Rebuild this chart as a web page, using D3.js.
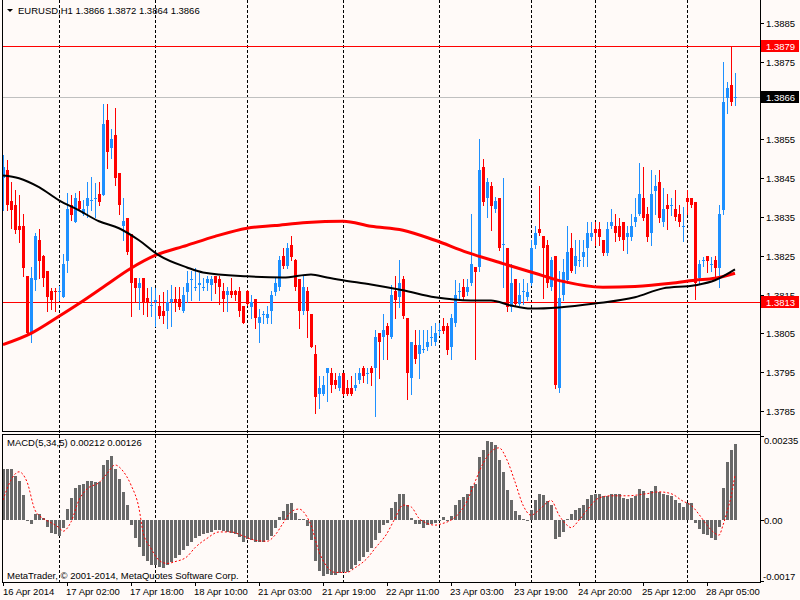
<!DOCTYPE html>
<html><head><meta charset="utf-8">
<script src="https://cdn.jsdelivr.net/npm/d3@7"></script>
<style>
html,body{margin:0;padding:0;background:#fffaf8;}
svg{display:block;}
text{font-family:"Liberation Sans",Arial,sans-serif;font-size:9.5px;fill:#000;}
</style></head>
<body>
<svg id="c" width="800" height="600"></svg>
<script>
// ---------- DATA ----------
const symbolTitle = "EURUSD,H1";
const lastOHLC = ["1.3866","1.3872","1.3864","1.3866"];
const opens = [
1.38450,1.38470,1.38390,1.38380,1.38328,1.38328,1.38199,1.38052,1.38187,1.38290,
1.38249,1.38210,1.38158,1.38158,1.38158,1.38145,1.38236,1.38380,1.38336,1.38390,
1.38359,1.38378,1.38390,1.38396,1.38408,1.38406,1.38599,1.38527,1.38561,1.38463,
1.38326,1.38347,1.38305,1.38192,1.38166,1.38192,1.38140,1.38120,1.38132,1.38120,
1.38109,1.38109,1.38130,1.38138,1.38138,1.38107,1.38156,1.38187,1.38166,1.38176,
1.38166,1.38179,1.38176,1.38199,1.38189,1.38158,1.38148,1.38158,1.38158,1.38158,
1.38120,1.38158,1.38117,1.38138,1.38076,1.38099,1.38089,1.38107,1.38156,1.38169,
1.38249,1.38225,1.38279,1.38238,1.38189,1.38107,1.38158,1.38099,1.37998,1.37895,
1.37895,1.37947,1.37947,1.37929,1.37908,1.37947,1.37908,1.37908,1.37908,1.37929,
1.37960,1.37947,1.37960,1.37960,1.38050,1.38040,1.38068,1.38040,1.38158,1.38145,
1.38189,1.38089,1.37936,1.38019,1.37996,1.38006,1.38016,1.38037,1.38027,1.38058,
1.38068,1.38068,1.38016,1.38076,1.38156,1.38169,1.38156,1.38179,1.38220,1.38220,
1.38478,1.38398,1.38429,1.38370,1.38398,1.38279,1.38269,1.38117,1.38189,1.38127,
1.38156,1.38145,1.38179,1.38277,1.38318,1.38300,1.38279,1.38169,1.38249,1.37908,
1.38148,1.38187,1.38269,1.38225,1.38237,1.38246,1.38269,1.38298,1.38318,1.38318,
1.38290,1.38256,1.38326,1.38328,1.38328,1.38336,1.38298,1.38298,1.38336,1.38359,
1.38398,1.38359,1.38308,1.38416,1.38439,1.38336,1.38380,1.38379,1.38370,1.38359,
1.38327,1.38398,1.38398,1.38388,1.38194,1.38237,1.38249,1.38227,1.38238,1.38218,
1.38367,1.38656,1.38690,1.38659];
const highs = [
1.38509,1.38496,1.38439,1.38419,1.38406,1.38359,1.38199,1.38220,1.38308,1.38318,
1.38251,1.38210,1.38166,1.38166,1.38171,1.38254,1.38411,1.38406,1.38411,1.38416,
1.38393,1.38439,1.38452,1.38437,1.38439,1.38641,1.38641,1.38576,1.38630,1.38463,
1.38398,1.38347,1.38305,1.38192,1.38192,1.38192,1.38166,1.38169,1.38166,1.38148,
1.38156,1.38161,1.38176,1.38169,1.38169,1.38169,1.38210,1.38212,1.38218,1.38205,
1.38194,1.38199,1.38199,1.38199,1.38199,1.38179,1.38169,1.38192,1.38161,1.38169,
1.38120,1.38161,1.38148,1.38138,1.38114,1.38109,1.38120,1.38158,1.38192,1.38249,
1.38269,1.38282,1.38300,1.38243,1.38189,1.38199,1.38169,1.38099,1.38019,1.37939,
1.37939,1.37960,1.37960,1.37947,1.37947,1.37947,1.37929,1.37939,1.37947,1.37960,
1.37967,1.37960,1.37967,1.38058,1.38050,1.38101,1.38078,1.38174,1.38199,1.38238,
1.38199,1.38089,1.38029,1.38058,1.38058,1.38058,1.38058,1.38068,1.38078,1.38078,
1.38089,1.38078,1.38101,1.38187,1.38181,1.38189,1.38189,1.38359,1.38220,1.38550,
1.38499,1.38450,1.38439,1.38401,1.38398,1.38450,1.38269,1.38230,1.38189,1.38179,
1.38189,1.38179,1.38290,1.38328,1.38429,1.38300,1.38290,1.38246,1.38249,1.38210,
1.38243,1.38328,1.38308,1.38290,1.38290,1.38290,1.38336,1.38336,1.38336,1.38336,
1.38290,1.38336,1.38370,1.38359,1.38347,1.38336,1.38328,1.38359,1.38398,1.38488,
1.38478,1.38375,1.38470,1.38457,1.38470,1.38424,1.38408,1.38398,1.38419,1.38380,
1.38375,1.38419,1.38398,1.38388,1.38238,1.38246,1.38249,1.38246,1.38249,1.38380,
1.38749,1.38697,1.38788,1.38721];
const lows = [
1.38367,1.38367,1.38321,1.38308,1.38285,1.38199,1.38045,1.38027,1.38161,1.38194,
1.38171,1.38109,1.38114,1.38109,1.38135,1.38143,1.38207,1.38341,1.38336,1.38367,
1.38354,1.38349,1.38367,1.38349,1.38380,1.38406,1.38476,1.38501,1.38432,1.38359,
1.38290,1.38254,1.38096,1.38130,1.38114,1.38101,1.38096,1.38096,1.38070,1.38089,
1.38076,1.38065,1.38070,1.38109,1.38114,1.38104,1.38130,1.38135,1.38161,1.38135,
1.38161,1.38161,1.38135,1.38153,1.38127,1.38109,1.38109,1.38145,1.38135,1.38096,
1.38076,1.38122,1.38089,1.38065,1.38027,1.38076,1.38078,1.38076,1.38148,1.38161,
1.38218,1.38218,1.38238,1.38161,1.38065,1.38101,1.38040,1.38016,1.37846,1.37859,
1.37890,1.37877,1.37898,1.37908,1.37903,1.37890,1.37892,1.37892,1.37905,1.37923,
1.37926,1.37923,1.37916,1.37838,1.37936,1.37985,1.37985,1.38037,1.38089,1.38117,
1.38089,1.37880,1.37895,1.37975,1.37936,1.38001,1.38006,1.38019,1.38019,1.38045,
1.38050,1.37996,1.37985,1.38070,1.38135,1.38135,1.38148,1.38174,1.37985,1.38212,
1.38380,1.38349,1.38316,1.38362,1.38264,1.38169,1.38107,1.38109,1.38122,1.38122,
1.38127,1.38135,1.38174,1.38269,1.38303,1.38140,1.38169,1.38161,1.37908,1.37898,
1.38135,1.38179,1.38207,1.38205,1.38225,1.38225,1.38225,1.38290,1.38279,1.38279,
1.38251,1.38251,1.38321,1.38287,1.38290,1.38264,1.38256,1.38290,1.38328,1.38354,
1.38341,1.38287,1.38279,1.38359,1.38336,1.38328,1.38318,1.38354,1.38341,1.38328,
1.38287,1.38359,1.38375,1.38138,1.38179,1.38225,1.38207,1.38212,1.38187,1.38169,
1.38359,1.38617,1.38638,1.38638];
const closes = [
1.38478,1.38380,1.38367,1.38316,1.38316,1.38218,1.38052,1.38192,1.38300,1.38236,
1.38194,1.38145,1.38135,1.38156,1.38158,1.38228,1.38370,1.38354,1.38398,1.38370,
1.38370,1.38398,1.38393,1.38398,1.38388,1.38589,1.38517,1.38550,1.38450,1.38380,
1.38339,1.38259,1.38179,1.38166,1.38181,1.38130,1.38130,1.38122,1.38135,1.38096,
1.38096,1.38130,1.38138,1.38130,1.38117,1.38148,1.38179,1.38189,1.38169,1.38179,
1.38169,1.38189,1.38189,1.38179,1.38169,1.38138,1.38158,1.38148,1.38148,1.38109,
1.38076,1.38127,1.38132,1.38089,1.38091,1.38099,1.38099,1.38148,1.38179,1.38238,
1.38225,1.38269,1.38246,1.38169,1.38107,1.38169,1.38107,1.38016,1.37885,1.37908,
1.37918,1.37960,1.37916,1.37916,1.37939,1.37895,1.37895,1.37895,1.37918,1.37947,
1.37939,1.37949,1.37947,1.38040,1.38027,1.38058,1.38047,1.38148,1.38135,1.38179,
1.38096,1.37947,1.38029,1.37985,1.38019,1.38009,1.38029,1.38040,1.38050,1.38060,
1.38055,1.38006,1.38089,1.38148,1.38158,1.38145,1.38169,1.38228,1.38207,1.38470,
1.38388,1.38439,1.38378,1.38390,1.38269,1.38280,1.38117,1.38179,1.38127,1.38148,
1.38158,1.38156,1.38269,1.38308,1.38308,1.38269,1.38179,1.38238,1.37916,1.38140,
1.38207,1.38259,1.38212,1.38249,1.38238,1.38259,1.38308,1.38308,1.38308,1.38298,
1.38256,1.38318,1.38336,1.38308,1.38298,1.38290,1.38308,1.38328,1.38349,1.38408,
1.38347,1.38298,1.38408,1.38429,1.38347,1.38370,1.38370,1.38380,1.38349,1.38336,
1.38328,1.38388,1.38380,1.38179,1.38228,1.38238,1.38236,1.38228,1.38218,1.38359,
1.38646,1.38682,1.38646,1.38660];

// moving averages, read at selected bars
const maRedIdx = [0,7,14,19,25,32,38,46,53,61,68,76,85,92,100,108,116,125,133,140,150,158,167,173,178,183];
const maRedVal = [1.38021,1.38050,1.38094,1.38127,1.38169,1.38218,1.38251,1.38277,1.38300,1.38321,1.38328,1.38336,1.38339,1.38326,1.38316,1.38290,1.38259,1.38230,1.38205,1.38184,1.38169,1.38171,1.38179,1.38187,1.38192,1.38205];
const maBlackIdx = [0,4,9,14,19,24,29,34,39,46,50,61,70,77,81,85,92,100,108,117,122,127,132,139,148,158,165,173,178,183];
const maBlackVal = [1.38457,1.38450,1.38427,1.38393,1.38367,1.38339,1.38321,1.38290,1.38251,1.38220,1.38207,1.38197,1.38194,1.38202,1.38194,1.38187,1.38176,1.38161,1.38143,1.38135,1.38135,1.38122,1.38114,1.38117,1.38127,1.38143,1.38166,1.38174,1.38187,1.38215];

// MACD(5,34,5) histogram
const macdMain = [
0.00144,0.00144,0.00142,0.00124,0.00109,0.00070,-0.00002,-0.00010,0.00017,0.00017,
0.00005,-0.00019,-0.00037,-0.00040,-0.00044,-0.00021,0.00031,0.00062,0.00090,0.00098,
0.00100,0.00109,0.00109,0.00107,0.00107,0.00155,0.00169,0.00179,0.00144,0.00116,
0.00079,0.00042,-0.00014,-0.00051,-0.00074,-0.00100,-0.00113,-0.00124,-0.00126,-0.00130,
-0.00133,-0.00124,-0.00118,-0.00107,-0.00096,-0.00084,-0.00072,-0.00062,-0.00051,-0.00044,
-0.00040,-0.00037,-0.00033,-0.00028,-0.00028,-0.00031,-0.00033,-0.00037,-0.00040,-0.00047,
-0.00062,-0.00053,-0.00056,-0.00061,-0.00062,-0.00061,-0.00056,-0.00044,-0.00023,0.00009,
0.00025,0.00045,0.00049,0.00021,0.00003,0.00003,-0.00016,-0.00056,-0.00115,-0.00142,
-0.00155,-0.00151,-0.00152,-0.00152,-0.00149,-0.00146,-0.00144,-0.00137,-0.00126,-0.00115,
-0.00102,-0.00090,-0.00077,-0.00056,-0.00037,-0.00014,-0.00007,0.00034,0.00051,0.00072,
0.00073,0.00042,0.00005,-0.00012,-0.00012,-0.00021,-0.00014,-0.00012,-0.00007,-0.00003,
0.00009,-0.00003,0.00012,0.00042,0.00056,0.00065,0.00072,0.00096,0.00101,0.00176,
0.00197,0.00221,0.00219,0.00211,0.00169,0.00135,0.00084,0.00056,0.00025,0.00014,
0.00003,0.00001,0.00028,0.00056,0.00073,0.00070,0.00053,0.00042,-0.00053,-0.00047,
-0.00033,0.00002,0.00017,0.00028,0.00034,0.00042,0.00059,0.00070,0.00073,0.00073,
0.00067,0.00068,0.00073,0.00073,0.00073,0.00062,0.00059,0.00062,0.00067,0.00087,
0.00081,0.00062,0.00082,0.00095,0.00079,0.00073,0.00070,0.00067,0.00056,0.00047,
0.00037,0.00047,0.00047,-0.00007,-0.00025,-0.00040,-0.00042,-0.00049,-0.00056,-0.00019,
0.00090,0.00163,0.00196,0.00212];
const macdSigIdx = [0,2,4,6,8,10,12,14,15,17,19,21,24,26,28,30,32,34,35,37,39,41,43,46,48,51,54,57,60,63,66,68,70,72,74,76,77,79,81,83,86,88,91,93,96,98,100,102,104,106,108,110,112,114,116,118,120,122,124,126,128,130,132,134,136,137,139,141,142,144,146,149,152,156,161,164,167,170,172,174,176,178,179,180,181,182,183];
const macdSigVal = [0.00056,0.00112,0.00135,0.00107,0.00028,0.00005,-0.00007,-0.00021,-0.00031,-0.00005,0.00056,0.00087,0.00105,0.00130,0.00154,0.00137,0.00098,0.00033,-0.00033,-0.00079,-0.00112,-0.00121,-0.00116,-0.00102,-0.00077,-0.00051,-0.00033,-0.00033,-0.00044,-0.00056,-0.00059,-0.00042,-0.00009,0.00023,0.00031,0.00009,-0.00014,-0.00088,-0.00130,-0.00146,-0.00146,-0.00133,-0.00107,-0.00079,-0.00037,0.00005,0.00042,0.00037,0.00005,-0.00009,-0.00014,-0.00009,0.00000,0.00019,0.00053,0.00107,0.00158,0.00191,0.00202,0.00168,0.00107,0.00042,0.00014,0.00028,0.00049,0.00055,0.00014,-0.00014,-0.00021,0.00000,0.00028,0.00062,0.00068,0.00068,0.00074,0.00079,0.00074,0.00053,0.00042,0.00016,-0.00014,-0.00037,-0.00042,-0.00014,0.00023,0.00065,0.00126];
const macdTitle = "MACD(5,34,5) 0.00212 0.00126";
const macdAxisLabels = ["0.00235","0.00","-0.0017"];
const macdAxisVals = [0.00235,0,-0.0017];

// price axis
const priceTicks = [1.3885,1.3875,1.3865,1.3855,1.3845,1.3835,1.3825,1.3815,1.3805,1.3795,1.3785];
const hLines = [{p:1.3879,label:"1.3879",color:"#ff0000"},{p:1.3813,label:"1.3813",color:"#ff0000"}];
const bidPrice = 1.3866, bidLabel = "1.3866";

// time axis
const timeLabelIdx = [0,16,32,48,64,80,96,112,128,144,160,176];
const timeLabels = ["16 Apr 2014","17 Apr 02:00","17 Apr 18:00","18 Apr 10:00","21 Apr 03:00","21 Apr 19:00","22 Apr 11:00","23 Apr 03:00","23 Apr 19:00","24 Apr 20:00","25 Apr 12:00","28 Apr 05:00"];
const dayStartIdx = [14,38,61,85,109,132,148,171];
const copyright = "MetaTrader, © 2001-2014, MetaQuotes Software Corp.";

// ---------- LAYOUT ----------
const L = 2, R = 760, mainTop = 0, mainBot = 431, macdTop = 434, macdBot = 582;
const svg = d3.select("#c");
const bg = "#fffaf8";
svg.append("rect").attr("width",800).attr("height",600).attr("fill",bg);

const n = opens.length;
const x = d3.scaleLinear().domain([0, n-1]).range([3, 3 + 4*(n-1)]);
const y = d3.scaleLinear().domain([1.3785, 1.3885]).range([411, 23]);
const ym = d3.scaleLinear().domain([-0.0017, 0.00235]).range([581, 436]);

const px = v => Math.round(v) + 0.5;

// clip paths
svg.append("clipPath").attr("id","cm").append("rect").attr("x",L+1).attr("y",mainTop).attr("width",R-L-1).attr("height",mainBot-mainTop);
svg.append("clipPath").attr("id","cd").append("rect").attr("x",L+1).attr("y",macdTop+1).attr("width",R-L-1).attr("height",macdBot-macdTop-1);

// vertical day grid
const grid = svg.append("g").attr("shape-rendering","crispEdges");
dayStartIdx.forEach(i=>{
  grid.append("line").attr("x1",px(x(i))).attr("x2",px(x(i))).attr("y1",0).attr("y2",macdBot)
    .attr("stroke","#000").attr("stroke-dasharray","3,2");
});

// main panel
const gm = svg.append("g").attr("clip-path","url(#cm)");
gm.append("line").attr("x1",L).attr("x2",R).attr("y1",px(y(bidPrice))).attr("y2",px(y(bidPrice)))
  .attr("stroke","#c0c0c0").attr("shape-rendering","crispEdges");
hLines.forEach(h=>{
  gm.append("line").attr("x1",L).attr("x2",R).attr("y1",px(y(h.p))).attr("y2",px(y(h.p)))
    .attr("stroke",h.color).attr("shape-rendering","crispEdges");
});

// candles
const bull = "#1e90ff", bear = "#ff0000";
const cg = gm.append("g").attr("shape-rendering","crispEdges");
d3.range(n).forEach(i=>{
  const o=opens[i], h=highs[i], l=lows[i], c=closes[i];
  const col = c >= o ? bull : bear;
  const cx = Math.round(x(i));
  cg.append("line").attr("x1",cx+0.5).attr("x2",cx+0.5).attr("y1",Math.round(y(h))).attr("y2",Math.round(y(l))+1).attr("stroke",col);
  const yt = Math.round(y(Math.max(o,c))), yb = Math.round(y(Math.min(o,c)));
  cg.append("rect").attr("x",cx-1).attr("y",yt).attr("width",3).attr("height",Math.max(1,yb-yt)).attr("fill",col);
});

// moving averages
const lineGen = d3.line().curve(d3.curveMonotoneX);
gm.append("path").attr("d", lineGen(maRedIdx.map((b,k)=>[x(b), y(maRedVal[k])])))
  .attr("fill","none").attr("stroke","#ff0000").attr("stroke-width",3);
gm.append("path").attr("d", lineGen(maBlackIdx.map((b,k)=>[x(b), y(maBlackVal[k])])))
  .attr("fill","none").attr("stroke","#000").attr("stroke-width",2);

// MACD panel
const gd = svg.append("g").attr("clip-path","url(#cd)");
const z = Math.round(ym(0));
const hg = gd.append("g").attr("shape-rendering","crispEdges");
macdMain.forEach((v,i)=>{
  const cx = Math.round(x(i));
  const yv = Math.round(ym(v));
  hg.append("rect").attr("x",cx-1).attr("width",3)
    .attr("y", v>=0 ? yv : z).attr("height", Math.max(1, Math.abs(z-yv))).attr("fill","#696969");
});
gd.append("path").attr("d", lineGen(macdSigIdx.map((b,k)=>[x(b), ym(macdSigVal[k])])))
  .attr("fill","none").attr("stroke","#ff0000").attr("stroke-width",1).attr("stroke-dasharray","2,2");

// borders
const bd = svg.append("g").attr("shape-rendering","crispEdges").attr("stroke","#000").attr("fill","none");
bd.append("line").attr("x1",L+0.5).attr("x2",L+0.5).attr("y1",0).attr("y2",mainBot+1);
bd.append("line").attr("x1",L).attr("x2",R+1).attr("y1",mainBot+0.5).attr("y2",mainBot+0.5);
bd.append("line").attr("x1",R+0.5).attr("x2",R+0.5).attr("y1",0).attr("y2",macdBot+1);
bd.append("rect").attr("x",L+0.5).attr("y",macdTop+0.5).attr("width",R-L).attr("height",macdBot-macdTop);

// price axis
const ax = svg.append("g");
const boxes = hLines.map(h=>h.p).concat([bidPrice]);
priceTicks.forEach(p=>{
  const yy = px(y(p));
  ax.append("line").attr("x1",R).attr("x2",R+4).attr("y1",yy).attr("y2",yy).attr("stroke","#000").attr("shape-rendering","crispEdges");
  // find the nearest label box; hide the label if fully covered, clip it if partly covered
  const near = boxes.map(b=>Math.round(y(b)) - yy);
  const covering = near.find(d=>Math.abs(d) < 12);
  if (covering === undefined) {
    ax.append("text").attr("x",766).attr("y",yy).attr("dy","0.35em").text(p.toFixed(4));
  } else if (Math.abs(covering) > 6) {
    // visible part above box only (as in the reference)
    const cid = "tc" + p.toFixed(4).replace(".","");
    const boxTop = yy + covering - 6;
    svg.append("clipPath").attr("id",cid).append("rect").attr("x",R+1).attr("y",yy-8).attr("width",39).attr("height",Math.max(0,boxTop-(yy-8)));
    ax.append("text").attr("x",766).attr("y",yy).attr("dy","0.35em").attr("clip-path","url(#"+cid+")").text(p.toFixed(4));
  }
});
function boxLabel(p, label, fill){
  const yy = Math.round(y(p));
  ax.append("rect").attr("x",R+1).attr("y",yy-6).attr("width",38).attr("height",12).attr("fill",fill);
  ax.append("text").attr("x",766).attr("y",yy+0.5).attr("dy","0.35em").style("fill","#fff").text(label);
}
hLines.forEach(h=>boxLabel(h.p,h.label,h.color));
boxLabel(bidPrice,bidLabel,"#000");

// macd axis
macdAxisVals.forEach((v,k)=>{
  const yy = px(ym(v));
  ax.append("line").attr("x1",R).attr("x2",R+4).attr("y1",yy).attr("y2",yy).attr("stroke","#000").attr("shape-rendering","crispEdges");
  const ty = k===0 ? yy+4 : (k===2 ? yy-5 : yy);
  ax.append("text").attr("x",k===2?763:764).attr("y",ty).attr("dy","0.35em").text(macdAxisLabels[k]);
});

// time axis
timeLabelIdx.forEach((b,k)=>{
  const xx = Math.round(x(b));
  ax.append("line").attr("x1",xx+0.5).attr("x2",xx+0.5).attr("y1",macdBot).attr("y2",macdBot+4).attr("stroke","#000").attr("shape-rendering","crispEdges");
  ax.append("text").attr("x",Math.max(3,xx-1)).attr("y",595).text(timeLabels[k]);
});

// titles
ax.append("path").attr("d","M7,9 L13,9 L10,12 Z").attr("fill","#000");
ax.append("text").attr("x",18).attr("y",14).text(symbolTitle + "  " + lastOHLC.join(" "));
ax.append("text").attr("x",7).attr("y",446).text(macdTitle);
ax.append("text").attr("x",7).attr("y",579).text(copyright);
</script>
</body></html>
